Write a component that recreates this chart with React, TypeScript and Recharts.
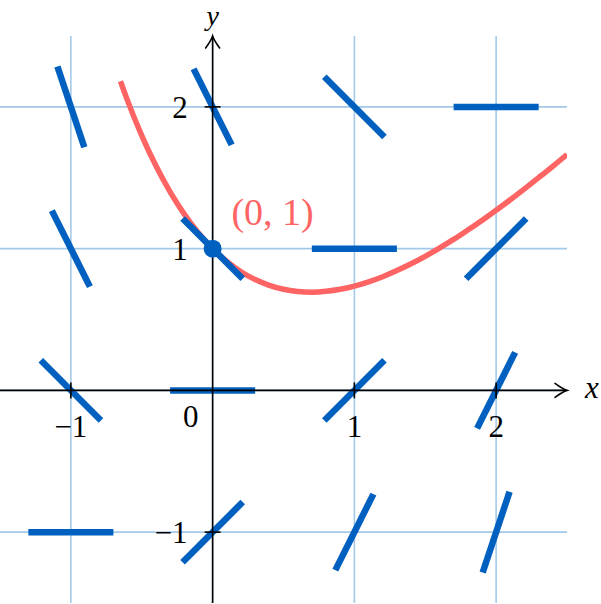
import React from 'react';
import { ComposedChart, Line, XAxis, YAxis, ReferenceLine, ReferenceDot } from 'recharts';

// slope-field sample points
const gridXs = [-1, 0, 1, 2];
const gridYs = [-1, 0, 1, 2];
// slope read at each grid point; rows follow gridYs, columns follow gridXs
const slopeRows = [
  [0, 1, 2, 3],
  [-1, 0, 1, 2],
  [-2, -1, 0, 1],
  [-3, -2, -1, 0],
];

const xTickValues = [-1, 1, 2];
const xTickLabels = ['−1', '1', '2'];
const yTickValues = [-1, 1, 2];
const yTickLabels = ['−1', '1', '2'];

// solution curve through (0, 1)
const curveX = [-0.65, -0.6, -0.5, -0.4, -0.3, -0.2, -0.1, 0, 0.1, 0.2, 0.3, 0.4, 0.5, 0.6, 0.7, 0.8, 0.9, 1.0, 1.1, 1.2, 1.3, 1.4, 1.5, 1.6, 1.7, 1.8, 1.9, 2.0, 2.1, 2.2, 2.3, 2.4, 2.5];
const curveY = [2.181, 2.044, 1.797, 1.584, 1.4, 1.243, 1.11, 1.0, 0.91, 0.837, 0.782, 0.741, 0.713, 0.698, 0.693, 0.699, 0.713, 0.736, 0.766, 0.802, 0.845, 0.893, 0.946, 1.004, 1.065, 1.131, 1.199, 1.271, 1.345, 1.422, 1.501, 1.581, 1.664];

const pointX = 0;
const pointY = 1;
const pointLabel = '(0, 1)';

const X_DOMAIN: [number, number] = [-1.5, 2.5];
const Y_DOMAIN: [number, number] = [-1.5, 2.5];

const BLUE = '#0060bf';
const RED = '#ff6464';
const GRID = '#a3c9e9';
const FONT = '"Liberation Serif", "DejaVu Serif", serif';
const HALF = 0.3;

const curveData = curveX.map((x, i) => ({ x, y: curveY[i] }));

const segments: { key: string; seg: { x: number; y: number }[] }[] = [];
gridYs.forEach((y, r) => {
  gridXs.forEach((x, c) => {
    const m = slopeRows[r][c];
    const dx = HALF / Math.sqrt(1 + m * m);
    segments.push({
      key: `s${x}_${y}`,
      seg: [
        { x: x - dx, y: y - m * dx },
        { x: x + dx, y: y + m * dx },
      ],
    });
  });
});

const ArrowLine = (props: any) => {
  const { x1, y1, x2, y2 } = props;
  const ang = Math.atan2(y2 - y1, x2 - x1);
  const cos = Math.cos(ang);
  const sin = Math.sin(ang);
  const pt = (a: number, b: number) => `${x2 + a * cos - b * sin},${y2 + a * sin + b * cos}`;
  return (
    <g>
      <line x1={x1} y1={y1} x2={x2 - 1 * cos} y2={y2 - 1 * sin} stroke="#000" strokeWidth={1.6} />
      <path
        d={`M${pt(-12, -7)} Q${pt(-4, -1.2)} ${pt(0, 0)} Q${pt(-4, 1.2)} ${pt(-12, 7)}`}
        fill="none"
        stroke="#000"
        strokeWidth={1.6}
        strokeLinecap="round"
      />
    </g>
  );
};

const XTick = (label: string) => (props: any) => {
  const { cx, cy } = props;
  return (
    <g>
      <line x1={cx} y1={cy - 8} x2={cx} y2={cy + 8} stroke="#000" strokeWidth={1.6} />
      <text x={cx} y={cy + 47} textAnchor="middle" fontFamily={FONT} fontSize={31} fill="#000">
        {label}
      </text>
    </g>
  );
};

const YTick = (label: string) => (props: any) => {
  const { cx, cy } = props;
  return (
    <g>
      <line x1={cx - 8} y1={cy} x2={cx + 8} y2={cy} stroke="#000" strokeWidth={1.6} />
      <text x={cx - 25} y={cy + 11} textAnchor="end" fontFamily={FONT} fontSize={31} fill="#000">
        {label}
      </text>
    </g>
  );
};

const TextAt = (label: string, dx: number, dy: number, size: number, color: string, italic: boolean) => (props: any) => {
  const { cx, cy } = props;
  return (
    <text
      x={cx + dx}
      y={cy + dy}
      textAnchor="middle"
      fontFamily={FONT}
      fontSize={size}
      fontStyle={italic ? 'italic' : 'normal'}
      fill={color}
    >
      {label}
    </text>
  );
};

export default function App() {
  return (
    <div style={{ position: 'absolute', left: 0, top: 0, background: '#fff' }}>
      <ComposedChart width={601} height={604} margin={{ top: 36, right: 34, bottom: 1, left: 0 }}>
        <XAxis type="number" dataKey="x" domain={X_DOMAIN} hide allowDataOverflow />
        <YAxis type="number" dataKey="y" domain={Y_DOMAIN} hide allowDataOverflow />
        {gridXs.map((x) => (
          <ReferenceLine key={`gx${x}`} x={x} stroke={GRID} strokeWidth={1.6} />
        ))}
        {gridYs.map((y) => (
          <ReferenceLine key={`gy${y}`} y={y} stroke={GRID} strokeWidth={1.6} />
        ))}
        <Line
          data={curveData}
          dataKey="y"
          type="monotone"
          stroke={RED}
          strokeWidth={5.5}
          dot={false}
          activeDot={false}
          isAnimationActive={false}
        />
        {segments.map((s) => (
          <ReferenceLine key={s.key} segment={s.seg} stroke={BLUE} strokeWidth={6.5} ifOverflow="visible" />
        ))}
        <ReferenceLine
          segment={[{ x: X_DOMAIN[0], y: 0 }, { x: X_DOMAIN[1], y: 0 }]}
          shape={ArrowLine}
          ifOverflow="visible"
        />
        <ReferenceLine
          segment={[{ x: 0, y: Y_DOMAIN[0] }, { x: 0, y: Y_DOMAIN[1] }]}
          shape={ArrowLine}
          ifOverflow="visible"
        />
        {xTickValues.map((v, i) => (
          <ReferenceDot key={`xt${v}`} x={v} y={0} r={1} shape={XTick(xTickLabels[i])} ifOverflow="visible" />
        ))}
        {yTickValues.map((v, i) => (
          <ReferenceDot key={`yt${v}`} x={0} y={v} r={1} shape={YTick(yTickLabels[i])} ifOverflow="visible" />
        ))}
        <ReferenceDot x={0} y={0} r={1} shape={TextAt('0', -22, 37, 31, '#000', false)} ifOverflow="visible" />
        <ReferenceDot x={X_DOMAIN[1]} y={0} r={1} shape={TextAt('x', 25, 8, 31, '#000', true)} ifOverflow="visible" />
        <ReferenceDot x={0} y={Y_DOMAIN[1]} r={1} shape={TextAt('y', 0, -11, 28, '#000', true)} ifOverflow="visible" />
        <ReferenceDot x={pointX} y={pointY} r={9} fill={BLUE} stroke="none" ifOverflow="visible" />
        <ReferenceDot
          x={pointX}
          y={pointY}
          r={1}
          shape={TextAt(pointLabel, 60, -24, 38, RED, false)}
          ifOverflow="visible"
        />
      </ComposedChart>
    </div>
  );
}
